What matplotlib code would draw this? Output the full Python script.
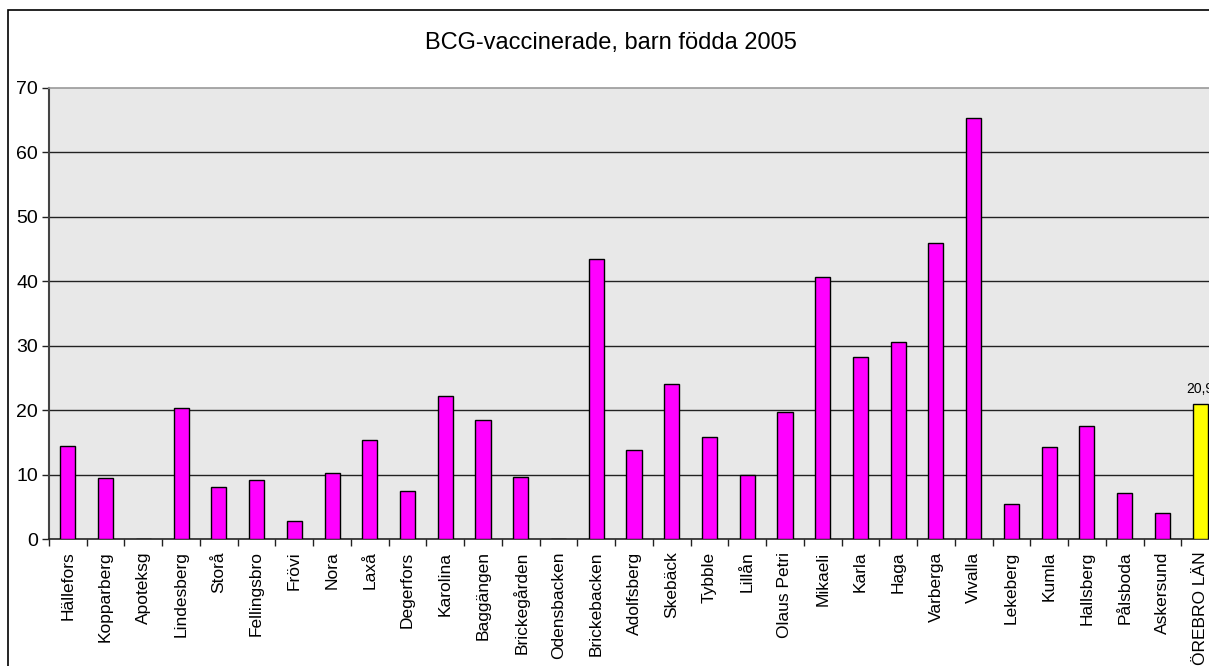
import matplotlib
matplotlib.use("Agg")
import matplotlib.pyplot as plt
from matplotlib.patches import Rectangle
import numpy as np

plt.rcParams['font.family'] = ['Liberation Sans', 'DejaVu Sans']

title = "BCG-vaccinerade, barn födda 2005"
categories = ["Hällefors", "Kopparberg", "Apoteksg", "Lindesberg", "Storå",
              "Fellingsbro", "Frövi", "Nora", "Laxå", "Degerfors", "Karolina",
              "Baggängen", "Brickegården", "Odensbacken", "Brickebacken",
              "Adolfsberg", "Skebäck", "Tybble", "Lillån", "Olaus Petri",
              "Mikaeli", "Karla", "Haga", "Varberga", "Vivalla", "Lekeberg",
              "Kumla", "Hallsberg", "Pålsboda", "Askersund", "ÖREBRO LÄN"]
values = [14.5, 9.4, 0, 20.3, 8.0, 9.1, 2.8, 10.3, 15.3, 7.4, 22.2,
          18.4, 9.6, 0, 43.4, 13.8, 24.0, 15.9, 10.0, 19.7,
          40.6, 28.3, 30.5, 45.9, 65.3, 5.4, 14.3, 17.5, 7.1, 4.1, 20.9]
total_label = "20,9"
y_ticks = [0, 10, 20, 30, 40, 50, 60, 70]

W, H = 1209, 666
fig = plt.figure(figsize=(W / 100, H / 100), dpi=100)

# outer chart frame (runs off the right and bottom edges)
fig.patches.append(Rectangle((8 / W, -0.1), 1.2, (H - 10) / H + 0.1,
                             transform=fig.transFigure, fill=False,
                             edgecolor='black', linewidth=1.2, zorder=0))

left_px, right_px = 49, 1219
top_px, bottom_px = 88, 539
ax = fig.add_axes([left_px / W, (H - bottom_px) / H,
                   (right_px - left_px) / W, (bottom_px - top_px) / H])
ax.set_facecolor('#e8e8e8')

x = np.arange(len(categories))
colors = ['#ff00ff'] * (len(categories) - 1) + ['#ffff00']
ax.bar(x, values, width=0.4, color=colors, edgecolor='black',
       linewidth=1.0, zorder=3)

ax.set_xlim(-0.5, len(categories) - 0.5)
ax.set_ylim(0, 70)
ax.set_yticks(y_ticks)
ax.set_yticklabels([str(t) for t in y_ticks], fontsize=14)

for t in y_ticks[1:-1]:
    ax.axhline(t, color='#222222', linewidth=1.0, zorder=1)

ax.set_xticks(x)
ax.set_xticklabels(categories, rotation=90, fontsize=12.5)
ax.tick_params(axis='x', which='major', length=0, pad=9)
ax.set_xticks(np.arange(-0.5, len(categories), 1), minor=True)
ax.tick_params(axis='x', which='minor', length=5, width=1, color='#222222',
               direction='out')
ax.tick_params(axis='y', length=5, width=1, color='#222222', direction='out',
               pad=3)

ax.spines['right'].set_visible(False)
ax.spines['top'].set_color('#999999')
ax.spines['top'].set_linewidth(1.2)
ax.spines['left'].set_color('#444444')
ax.spines['left'].set_linewidth(1.5)
ax.spines['bottom'].set_color('#222222')
ax.spines['bottom'].set_linewidth(1.2)

ax.annotate(total_label, (x[-1], values[-1]), xytext=(0, 6),
            textcoords='offset points', ha='center', va='bottom',
            fontsize=10, annotation_clip=False)

fig.text(611 / W, 1 - 43 / H, title, ha='center', va='center',
         fontsize=17)

fig.savefig('out.png', dpi=100)
